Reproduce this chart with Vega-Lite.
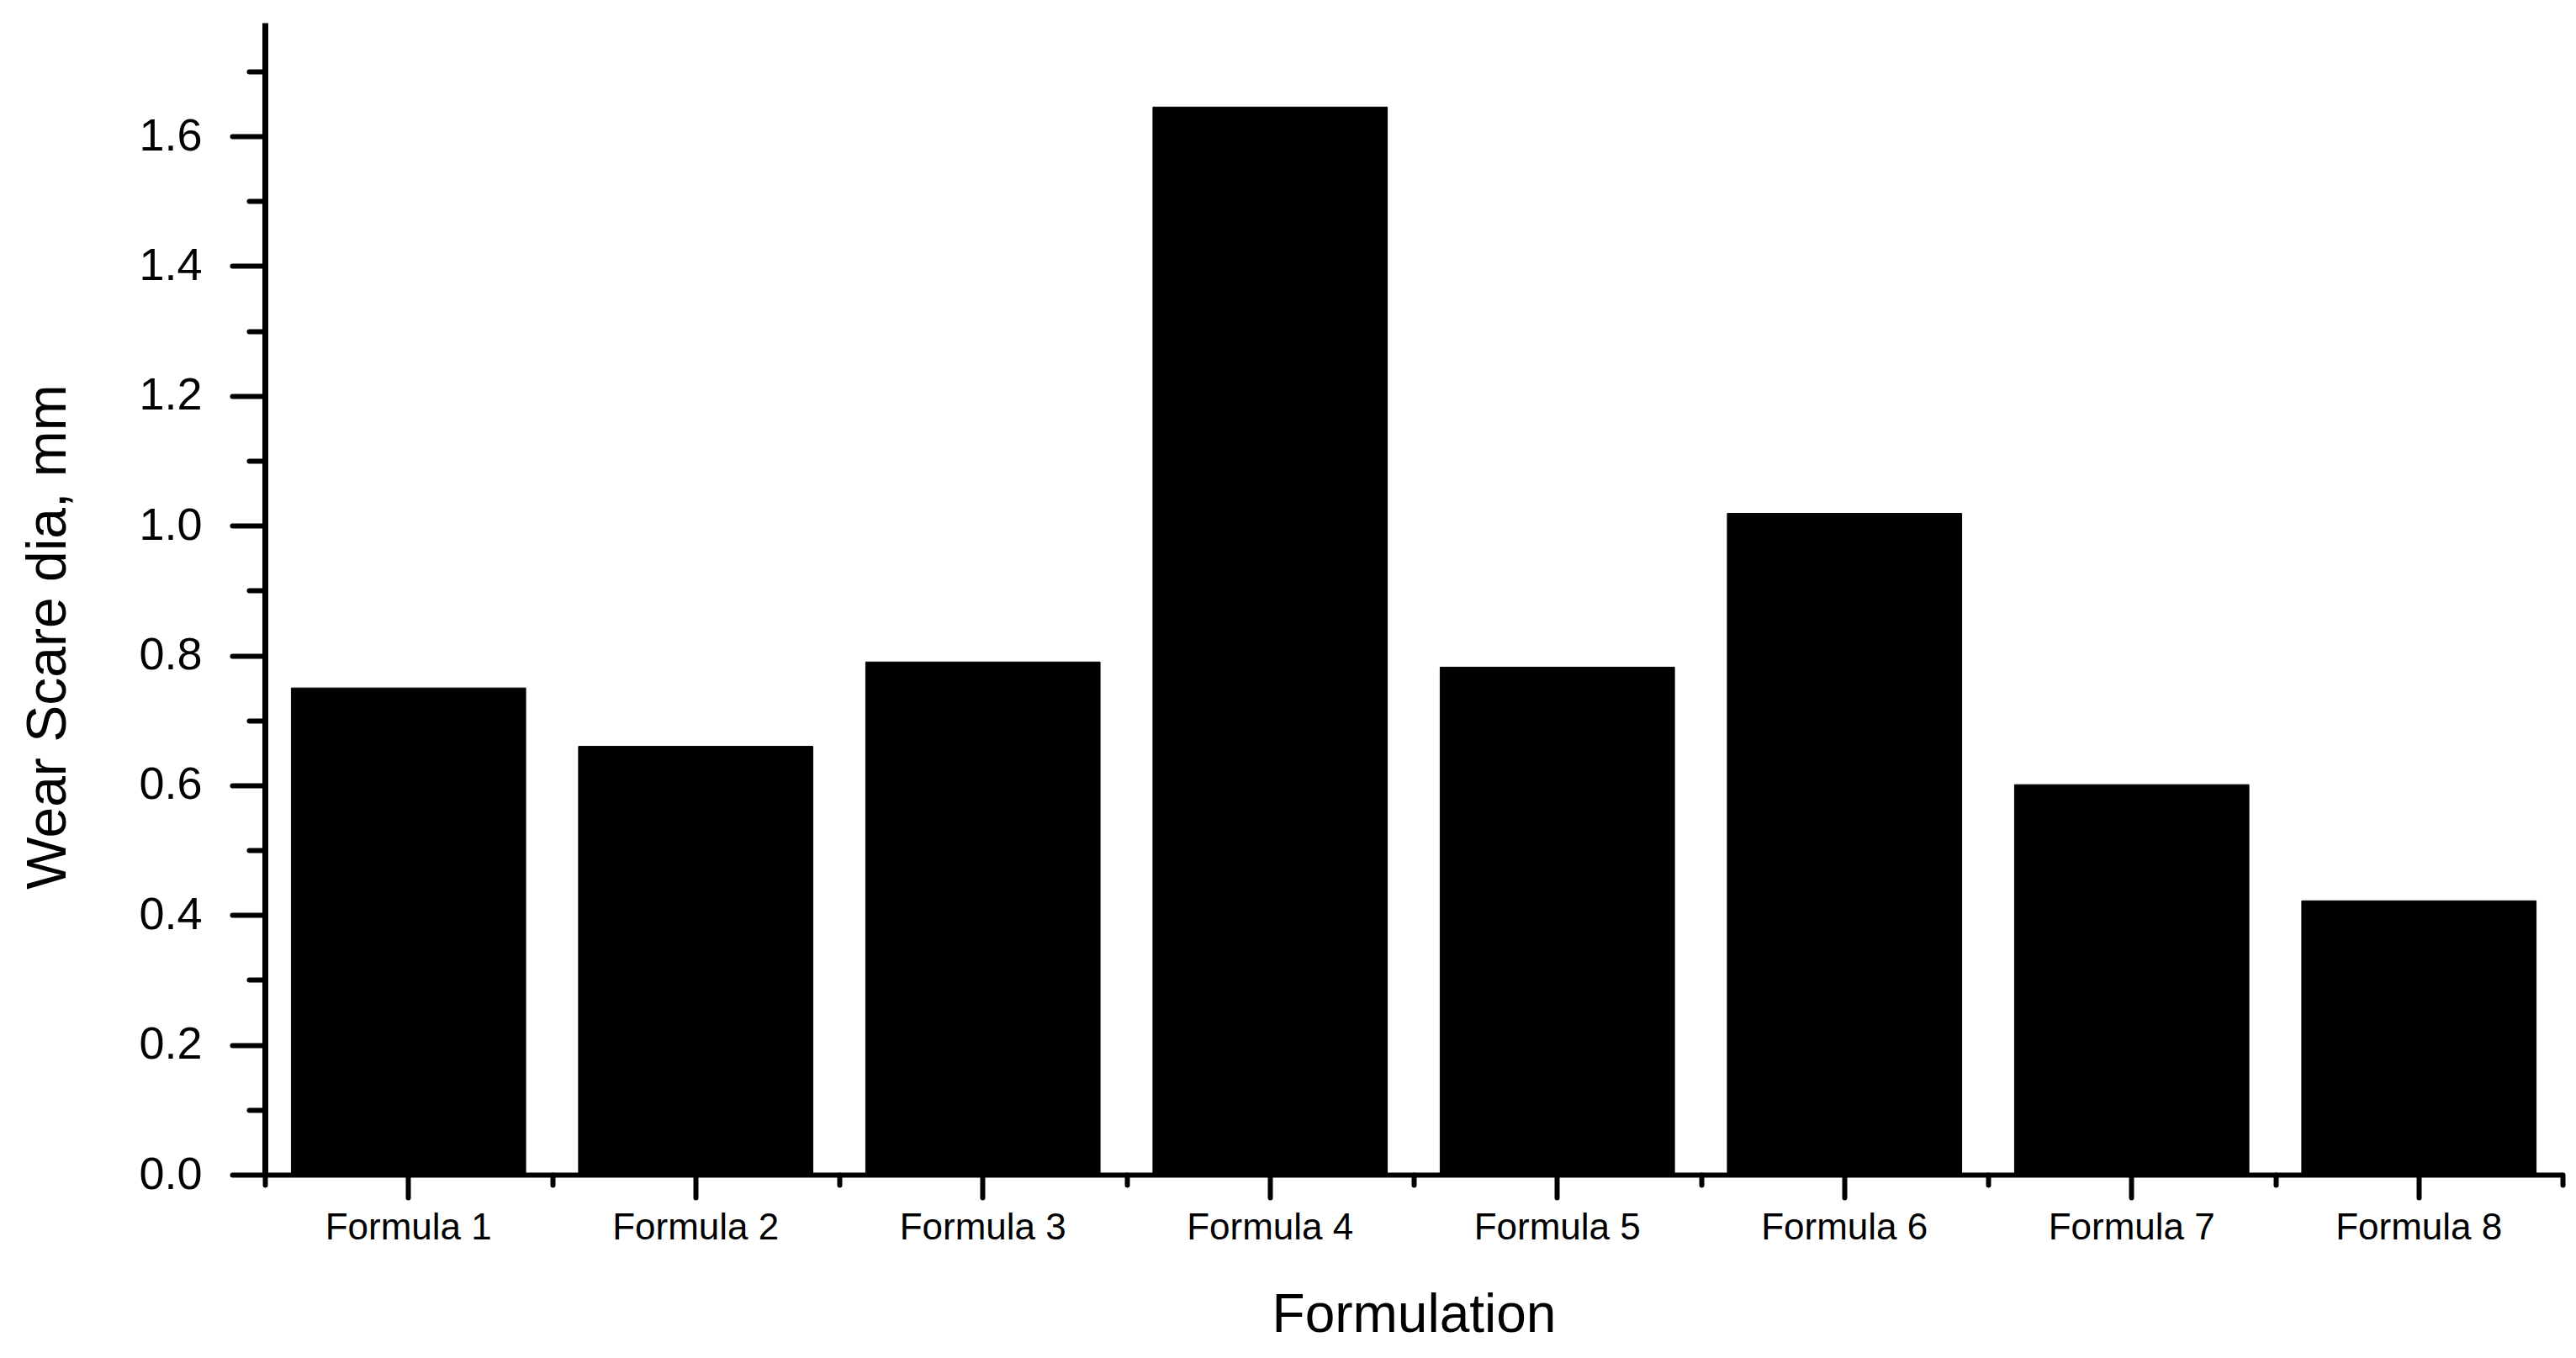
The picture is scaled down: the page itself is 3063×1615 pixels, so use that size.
{
  "$schema": "https://vega.github.io/schema/vega-lite/v6.json",
  "width": 2732,
  "height": 1370,
  "autosize": {"type": "none"},
  "padding": {"left": 315, "top": 27, "right": 16, "bottom": 218},
  "background": "white",
  "config": {"view": {"stroke": null}, "font": "Liberation Sans"},
  "data": {
    "values": [
      {"formulation": "Formula 1", "wear": 0.75},
      {"formulation": "Formula 2", "wear": 0.66},
      {"formulation": "Formula 3", "wear": 0.79},
      {"formulation": "Formula 4", "wear": 1.645},
      {"formulation": "Formula 5", "wear": 0.782},
      {"formulation": "Formula 6", "wear": 1.019},
      {"formulation": "Formula 7", "wear": 0.601},
      {"formulation": "Formula 8", "wear": 0.422}
    ]
  },
  "layer": [
    {
      "mark": {"type": "bar", "color": "black", "stroke": "black", "strokeWidth": 1},
      "encoding": {
        "x": {
          "field": "formulation", "type": "nominal", "sort": null,
          "scale": {"paddingInner": 0.184, "paddingOuter": 0.092},
          "axis": {
            "orient": "bottom", "title": "Formulation", "labelAngle": 0, "labelLimit": 0,
            "labelFont": "Liberation Sans", "labelFontSize": 44, "labelColor": "black", "labelPadding": 14,
            "tickSize": 27, "tickWidth": 6, "tickColor": "black", "tickCap": "round",
            "domainColor": "black", "domainWidth": 6,
            "titleFont": "Liberation Sans", "titleFontSize": 64, "titleFontWeight": "normal", "titleColor": "black", "titlePadding": 50
          }
        },
        "y": {
          "field": "wear", "type": "quantitative",
          "scale": {"domain": [0, 1.775], "nice": false, "zero": true},
          "axis": {
            "orient": "left", "values": [0, 0.2, 0.4, 0.6, 0.8, 1.0, 1.2, 1.4, 1.6], "format": ".1f", "grid": false,
            "tickSize": 39, "tickWidth": 6, "tickColor": "black", "tickCap": "round",
            "domainColor": "black", "domainWidth": 7,
            "labelFont": "Liberation Sans", "labelFontSize": 54, "labelColor": "black", "labelPadding": 36,
            "title": "Wear Scare dia, mm", "titleFont": "Liberation Sans", "titleFontSize": 66, "titleFontWeight": "normal", "titleColor": "black",
            "titleX": -238, "titleY": 730, "titleBaseline": "alphabetic", "titleAngle": -90, "titleAlign": "center"
          }
        }
      }
    },
    {
      "mark": {"type": "bar", "opacity": 0},
      "encoding": {
        "x": {
          "field": "formulation", "type": "nominal", "sort": null,
          "scale": {"paddingInner": 0.184, "paddingOuter": 0.092},
          "axis": {
            "orient": "bottom", "tickOffset": 170.75, "labels": false, "title": null, "domain": false,
            "tickSize": 12, "tickWidth": 6, "tickColor": "black", "tickCap": "round"
          }
        },
        "y": {
          "field": "wear", "type": "quantitative",
          "scale": {"domain": [0, 1.775], "nice": false, "zero": true},
          "axis": {
            "orient": "left", "values": [0.1, 0.3, 0.5, 0.7, 0.9, 1.1, 1.3, 1.5, 1.7], "grid": false,
            "labels": false, "title": null, "domain": false,
            "tickSize": 19, "tickWidth": 6, "tickColor": "black", "tickCap": "round"
          }
        }
      }
    },
    {
      "mark": {"type": "bar", "opacity": 0},
      "encoding": {
        "x": {
          "field": "formulation", "type": "nominal", "sort": null,
          "scale": {"paddingInner": 0.184, "paddingOuter": 0.092},
          "axis": {
            "orient": "bottom", "values": ["Formula 1"], "tickOffset": -170.75, "labels": false, "title": null, "domain": false,
            "tickSize": 12, "tickWidth": 6, "tickColor": "black", "tickCap": "round"
          }
        },
        "y": {
          "field": "wear", "type": "quantitative",
          "scale": {"domain": [0, 1.775], "nice": false, "zero": true},
          "axis": null
        }
      }
    }
  ],
  "resolve": {"axis": {"x": "independent", "y": "independent"}}
}
